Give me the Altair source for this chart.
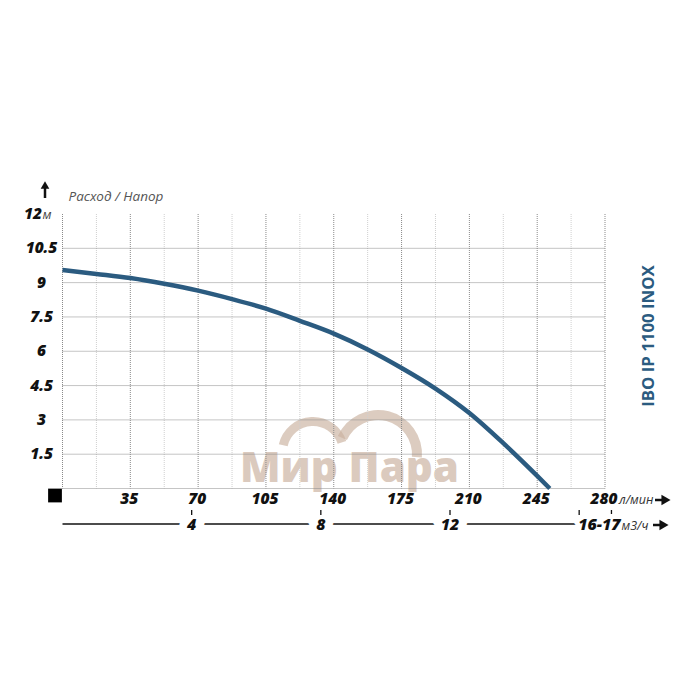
import altair as alt
import pandas as pd
import math

# ---- data ----
flow_lpm = [0, 17.5, 35, 52.5, 70, 87.5, 105, 122.5, 140, 157.5, 175, 192.5, 210, 227.5, 245, 251.5]
head_m = [9.55, 9.38, 9.2, 8.95, 8.65, 8.28, 7.86, 7.33, 6.77, 6.08, 5.27, 4.37, 3.3, 1.98, 0.55, 0]

x_major = [0, 35, 70, 105, 140, 175, 210, 245, 280]
x_minor = [17.5, 52.5, 87.5, 122.5, 157.5, 192.5, 227.5, 262.5]
x_labels = [35, 70, 105, 140, 175, 210, 245, 280]
y_grid = [0, 1.5, 3, 4.5, 6, 7.5, 9, 10.5]
y_labels = ["1.5", "3", "4.5", "6", "7.5", "9", "10.5"]
y_label_vals = [1.5, 3, 4.5, 6, 7.5, 9, 10.5]
m3h_ticks = [4, 8, 12, 16, 17]
m3h_labels = ["4", "8", "12"]
m3h_label_vals = [4, 8, 12]

title_text = "Расход / Напор"
model_text = "IBO IP 1100 INOX"
watermark_text = "Мир Пара"

BLUE = "#2b5b80"
W, H = 542.5, 274.5
FONT = "Open Sans"
NUMSIZE = 15.5
TAU = 2 * math.pi

xs = alt.Scale(domain=[0, 280], nice=False, zero=True)
ys = alt.Scale(domain=[0, 12], nice=False, zero=True)

one = pd.DataFrame({"a": [0]})

# watermark
wm_arc1 = alt.Chart(one).mark_arc(theta=TAU - 1.35, theta2=TAU + 1.25, innerRadius=26, outerRadius=35,
                                  color="#c9b09e", opacity=0.65).encode(
    x=alt.value(250.5), y=alt.value(238))
wm_arc2 = alt.Chart(one).mark_arc(theta=TAU - 1.15, theta2=TAU + 1.65, innerRadius=34, outerRadius=44,
                                  color="#c9b09e", opacity=0.65).encode(
    x=alt.value(315.5), y=alt.value(240))
wm_text = alt.Chart(one).mark_text(text=watermark_text, font=FONT, fontSize=42, fontWeight=800,
                                   color="#cdb4a3", opacity=0.7, align="center",
                                   baseline="alphabetic").encode(
    x=alt.value(287), y=alt.value(268))

# grid
df_minor = pd.DataFrame({"x": x_minor})
minor = alt.Chart(df_minor).mark_rule(color="#cfcfcf", strokeDash=[1, 1], strokeWidth=1).encode(
    x=alt.X("x:Q", scale=xs, axis=None),
    y=alt.value(0), y2=alt.value(H))
df_major = pd.DataFrame({"x": x_major})
major = alt.Chart(df_major).mark_rule(color="#8a8a8a", strokeDash=[1, 1], strokeWidth=1).encode(
    x=alt.X("x:Q", scale=xs, axis=None),
    y=alt.value(0), y2=alt.value(H))
df_hg = pd.DataFrame({"y": y_grid})
hgrid = alt.Chart(df_hg).mark_rule(color="#8a8a8a", strokeDash=[1, 1], strokeWidth=1).encode(
    y=alt.Y("y:Q", scale=ys, axis=None),
    x=alt.value(0), x2=alt.value(W))

# curve
df_curve = pd.DataFrame({"flow": flow_lpm, "head": head_m})
curve = alt.Chart(df_curve).mark_line(color=BLUE, strokeWidth=4.5, interpolate="monotone",
                                      strokeCap="butt").encode(
    x=alt.X("flow:Q", scale=xs, axis=None),
    y=alt.Y("head:Q", scale=ys, axis=None))

# y labels
df_yl = pd.DataFrame({"v": y_label_vals, "t": y_labels})
ylab = alt.Chart(df_yl).mark_text(font=FONT, fontSize=NUMSIZE, fontWeight=800, fontStyle="italic",
                                  color="#111", align="center", baseline="middle").encode(
    y=alt.Y("v:Q", scale=ys, axis=None), x=alt.value(-21), text="t:N")
y12 = alt.Chart(one).mark_text(text="12", font=FONT, fontSize=NUMSIZE, fontWeight=800,
                               fontStyle="italic", color="#111", align="right",
                               baseline="middle").encode(x=alt.value(-20.5), y=alt.value(0))
y12m = alt.Chart(one).mark_text(text="м", font=FONT, fontSize=13, fontStyle="italic",
                                color="#444", align="left", baseline="middle").encode(
    x=alt.value(-20), y=alt.value(1))

# x labels
df_xl = pd.DataFrame({"v": x_labels, "t": [str(v) for v in x_labels]})
xlab = alt.Chart(df_xl).mark_text(font=FONT, fontSize=NUMSIZE, fontWeight=800, fontStyle="italic",
                                  color="#111", align="center", baseline="middle", dx=-1).encode(
    x=alt.X("v:Q", scale=xs, axis=None), y=alt.value(285), text="t:N")
xunit = alt.Chart(one).mark_text(text="л/мин", font=FONT, fontSize=12.5, fontStyle="italic",
                                 color="#333", align="left", baseline="middle").encode(
    x=alt.value(556.5), y=alt.value(286))
xarrow_stem = alt.Chart(one).mark_rule(color="#111", strokeWidth=2.5).encode(
    x=alt.value(592.5), x2=alt.value(600), y=alt.value(286))
xarrow_head = alt.Chart(one).mark_point(shape="triangle-right", filled=True, color="#111",
                                        size=110, opacity=1).encode(
    x=alt.value(603.5), y=alt.value(286))

# black square at origin
square = alt.Chart(one).mark_square(color="#000", size=190, opacity=1).encode(
    x=alt.value(-7.5), y=alt.value(281.5))

# up arrow + title
up_stem = alt.Chart(one).mark_rule(color="#111", strokeWidth=2.5).encode(
    x=alt.value(-17.5), y=alt.value(-27), y2=alt.value(-16))
up_head = alt.Chart(one).mark_point(shape="triangle-up", filled=True, color="#111",
                                    size=75, opacity=1).encode(
    x=alt.value(-17.5), y=alt.value(-29))
title = alt.Chart(one).mark_text(text=title_text, font=FONT, fontSize=13.5, fontStyle="italic",
                                 color="#555", align="left", baseline="middle").encode(
    x=alt.value(6), y=alt.value(-17.5))

# secondary axis m3/h
df_sec = pd.DataFrame({"a": [0], "b": [16 * 1000 / 60]})
sec_line = alt.Chart(df_sec).mark_rule(color="#111", strokeWidth=1.3).encode(
    x=alt.X("a:Q", scale=xs, axis=None), x2="b:Q", y=alt.value(310))
df_st = pd.DataFrame({"x": [v * 1000 / 60 for v in m3h_ticks]})
df_sl = pd.DataFrame({"x": [v * 1000 / 60 for v in m3h_label_vals], "t": m3h_labels})
sec_halo = alt.Chart(df_sl).mark_text(font=FONT, fontSize=16, fontWeight=800, fontStyle="italic",
                                      color="#fff", stroke="#fff", strokeWidth=16,
                                      align="center", baseline="middle").encode(
    x=alt.X("x:Q", scale=xs, axis=None), y=alt.value(311), text="t:N")
sec_lab = alt.Chart(df_sl).mark_text(font=FONT, fontSize=16, fontWeight=800, fontStyle="italic",
                                     color="#111", align="center", baseline="middle").encode(
    x=alt.X("x:Q", scale=xs, axis=None), y=alt.value(311), text="t:N")
sec_ticks = alt.Chart(df_st).mark_rule(color="#111", strokeWidth=1.3).encode(
    x=alt.X("x:Q", scale=xs, axis=None), y=alt.value(296), y2=alt.value(301))
df_1617 = pd.DataFrame({"x": [16 * 1000 / 60], "t": ["16-17"]})
halo_1617 = alt.Chart(df_1617).mark_text(font=FONT, fontSize=16, fontWeight=800,
                                         fontStyle="italic", color="#fff", stroke="#fff",
                                         strokeWidth=10, align="left", baseline="middle",
                                         dx=-1).encode(
    x=alt.X("x:Q", scale=xs, axis=None), y=alt.value(311), text="t:N")
lab_1617 = alt.Chart(df_1617).mark_text(font=FONT, fontSize=16, fontWeight=800,
                                        fontStyle="italic", color="#111", align="left",
                                        baseline="middle", dx=-1).encode(
    x=alt.X("x:Q", scale=xs, axis=None), y=alt.value(311), text="t:N")
sec_unit = alt.Chart(one).mark_text(text="м3/ч", font=FONT, fontSize=12.5, fontStyle="italic",
                                    color="#333", align="left", baseline="middle").encode(
    x=alt.value(559), y=alt.value(312))
sec_arrow_stem = alt.Chart(one).mark_rule(color="#111", strokeWidth=2.5).encode(
    x=alt.value(590.5), x2=alt.value(598), y=alt.value(311))
sec_arrow_head = alt.Chart(one).mark_point(shape="triangle-right", filled=True, color="#111",
                                           size=110, opacity=1).encode(
    x=alt.value(601.5), y=alt.value(311))

# model label
model = alt.Chart(one).mark_text(text=model_text, font=FONT, fontSize=16.8, fontWeight="bold",
                                 color=BLUE, angle=270, align="center", baseline="middle").encode(
    x=alt.value(586.5), y=alt.value(122))

chart = alt.layer(
    wm_arc1, wm_arc2, wm_text,
    minor, major, hgrid,
    curve,
    ylab, y12, y12m,
    xlab, xunit, xarrow_stem, xarrow_head,
    square, up_stem, up_head, title,
    sec_line, sec_halo, sec_lab, sec_ticks, halo_1617, lab_1617, sec_unit,
    sec_arrow_stem, sec_arrow_head,
    model,
).properties(
    width=W, height=H,
    autosize="none",
    padding={"left": 54.5, "top": 206, "right": 85, "bottom": 60},
).configure_view(stroke=None)

chart.save("out.html", embed_options={"renderer": "svg", "actions": False})
